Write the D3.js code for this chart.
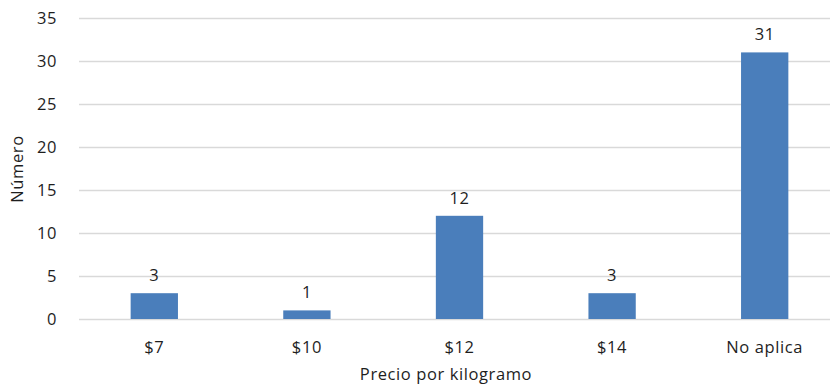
<!DOCTYPE html>
<html>
<head>
<meta charset="utf-8">
<script src="https://cdn.jsdelivr.net/npm/d3@7"></script>
<style>
  body { margin: 0; background: #fff; }
  text { font-family: "Open Sans", sans-serif; fill: #1e1e1e; font-size: 16.5px; letter-spacing: 0.6px; }
</style>
</head>
<body>
<div id="chart"></div>
<script>
const categories = ["$7", "$10", "$12", "$14", "No aplica"];
const values = [3, 1, 12, 3, 31];
const yTicks = [0, 5, 10, 15, 20, 25, 30, 35];

const width = 830,
    height = 386;

const svg = d3.select("#chart").append("svg")
    .attr("width", width)
    .attr("height", height);

const x = d3.scaleBand()
    .domain(categories)
    .range([78, 841])
    .padding(0);

const y = d3.scaleLinear()
    .domain([0, 35])
    .range([319, 18]);

const barW = x.bandwidth() * 0.31;

// gridlines
svg.append("g")
  .selectAll("line")
  .data(yTicks)
  .enter().append("line")
    .attr("x1", 79)
    .attr("x2", width)
    .attr("y1", function(d) { return Math.round(y(d)) + 0.5; })
    .attr("y2", function(d) { return Math.round(y(d)) + 0.5; })
    .style("stroke", "#d9d9d9")
    .style("stroke-width", 1.3);

// y tick labels
svg.append("g")
  .selectAll("text")
  .data(yTicks)
  .enter().append("text")
    .attr("x", 57)
    .attr("y", function(d) { return y(d); })
    .attr("dy", "0.36em")
    .attr("text-anchor", "end")
    .text(function(d) { return d; });

// bars
svg.append("g")
  .selectAll("rect")
  .data(values)
  .enter().append("rect")
    .attr("x", function(d, i) { return x(categories[i]) + x.bandwidth() / 2 - barW / 2; })
    .attr("y", function(d) { return y(d); })
    .attr("width", barW)
    .attr("height", function(d) { return y(0) - y(d); })
    .style("fill", "#4a7ebb");

// value labels
svg.append("g")
  .selectAll("text")
  .data(values)
  .enter().append("text")
    .attr("x", function(d, i) { return x(categories[i]) + x.bandwidth() / 2; })
    .attr("y", function(d) { return y(d) - 12; })
    .attr("text-anchor", "middle")
    .text(function(d) { return d; });

// x tick labels
svg.append("g")
  .selectAll("text")
  .data(categories)
  .enter().append("text")
    .attr("x", function(d) { return x(d) + x.bandwidth() / 2; })
    .attr("y", 353)
    .attr("text-anchor", "middle")
    .text(function(d) { return d; });

// axis titles
svg.append("text")
    .attr("x", 446)
    .attr("y", 380)
    .attr("text-anchor", "middle")
    .text("Precio por kilogramo");

svg.append("text")
    .attr("transform", "translate(23,169) rotate(-90)")
    .attr("text-anchor", "middle")
    .text("Número");
</script>
</body>
</html>
